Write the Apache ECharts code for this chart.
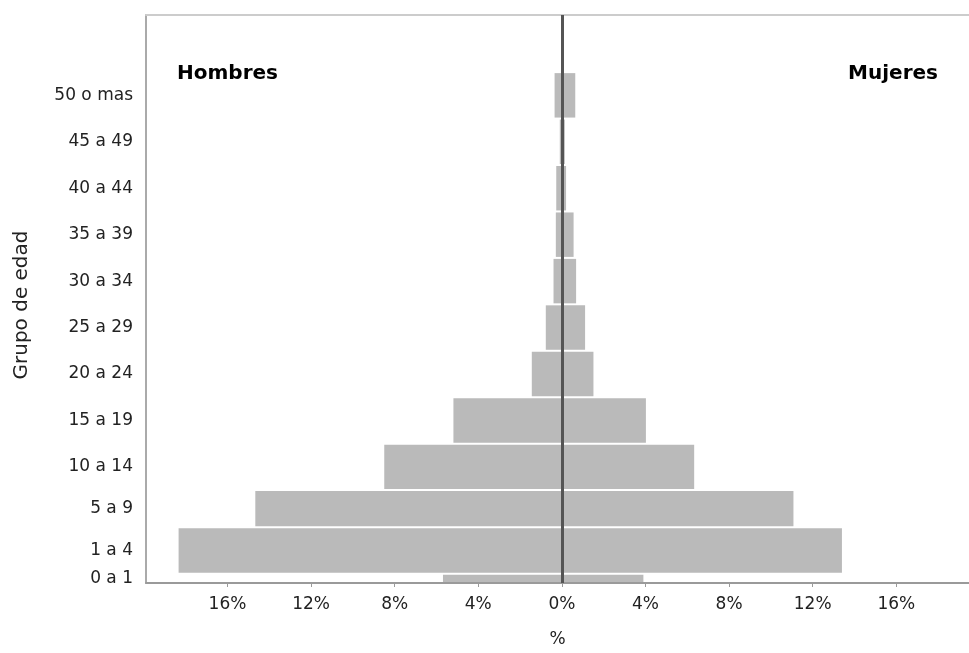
<!DOCTYPE html>
<html>
<head>
<meta charset="utf-8">
<script src="https://cdn.jsdelivr.net/npm/echarts@6/dist/echarts.min.js"></script>
<style>html,body{margin:0;padding:0;background:#fff}#c{width:969px;height:653px}</style>
</head>
<body>
<div id="c"></div>
<script>
// Age groups (bottom to top) and their band extents on the vertical scale
const ageGroups = ['0 a 1','1 a 4','5 a 9','10 a 14','15 a 19','20 a 24','25 a 29','30 a 34','35 a 39','40 a 44','45 a 49','50 o mas'];
const bandStart = [0, 0.2, 1.2, 2, 3, 4, 5, 6, 7, 8, 9, 10];
const bandEnd   = [0.2, 1.2, 2, 3, 4, 5, 6, 7, 8, 9, 10, 11];
// Percentages
const hombres = [5.69, 18.34, 14.67, 8.50, 5.19, 1.44, 0.77, 0.40, 0.29, 0.27, 0.10, 0.35];
const mujeres = [3.90, 13.40, 11.08, 6.33, 4.02, 1.51, 1.11, 0.68, 0.56, 0.20, 0.14, 0.64];
// X tick values
const xTicks = [-16, -12, -8, -4, 0, 4, 8, 12, 16];

const FONT = 'DejaVu Sans';
const centers = ageGroups.map((g, i) => (bandStart[i] + bandEnd[i]) / 2);

function renderBar(params, api) {
  const s = api.value(0), e = api.value(1), v = api.value(2);
  const pTop = api.coord([0, e]);
  const pBot = api.coord([v, s]);
  const x = Math.min(pTop[0], pBot[0]);
  const w = Math.abs(pBot[0] - pTop[0]);
  const y = pTop[1] + 1;
  const h = Math.max(0, pBot[1] - pTop[1] - 2);
  return { type: 'rect', shape: { x: x, y: y, width: w, height: h }, style: { fill: '#bababa' } };
}

const chart = echarts.init(document.getElementById('c'));
chart.setOption({
  animation: false,
  backgroundColor: '#fff',
  grid: { left: 146, right: 0, top: 15, bottom: 63 },
  xAxis: [{
    type: 'value', min: -19.9, max: 19.48,
    axisLine: { show: true, onZero: false, lineStyle: { color: '#9a9a9a', width: 2 } },
    axisTick: { show: true, customValues: xTicks, length: 4, lineStyle: { color: '#9a9a9a' } },
    splitLine: { show: false },
    axisLabel: { customValues: xTicks, formatter: v => Math.abs(v) + '%', fontFamily: FONT, fontSize: 17, color: '#222', margin: 13 },
    name: '%', nameLocation: 'middle', nameGap: 48,
    nameTextStyle: { fontFamily: FONT, fontSize: 17, color: '#222' }
  }, {
    type: 'value', position: 'top', min: -19.9, max: 19.48,
    axisLine: { show: true, onZero: false, lineStyle: { color: '#cccccc', width: 2 } },
    axisTick: { show: false }, axisLabel: { show: false }, splitLine: { show: false }
  }],
  yAxis: {
    type: 'value', min: 0, max: 12.23,
    axisLine: { show: true, onZero: false, lineStyle: { color: '#aaaaaa', width: 2 } },
    axisTick: { show: false },
    splitLine: { show: false },
    axisLabel: {
      customValues: centers,
      formatter: v => { let best = 0; centers.forEach((c, i) => { if (Math.abs(c - v) < Math.abs(centers[best] - v)) best = i; }); return ageGroups[best]; },
      fontFamily: FONT, fontSize: 17, color: '#222', margin: 13
    }
  },
  series: [{
    name: 'Hombres', type: 'custom', renderItem: renderBar,
    data: ageGroups.map((g, i) => [bandStart[i], bandEnd[i], -hombres[i]]),
    markLine: {
      silent: true, symbol: 'none', label: { show: false },
      lineStyle: { color: '#555', width: 3, type: 'solid' },
      data: [{ xAxis: 0 }]
    }
  }, {
    name: 'Mujeres', type: 'custom', renderItem: renderBar,
    data: ageGroups.map((g, i) => [bandStart[i], bandEnd[i], mujeres[i]])
  }],
  graphic: [
    { type: 'text', left: 177, top: 64, style: { text: 'Hombres', font: 'bold 20px "DejaVu Sans"', fill: '#000' } },
    { type: 'text', right: 31, top: 64, style: { text: 'Mujeres', font: 'bold 20px "DejaVu Sans"', fill: '#000' } },
    { type: 'text', x: 22, y: 305, rotation: Math.PI / 2, style: { text: 'Grupo de edad', font: '20px "DejaVu Sans"', fill: '#222', textAlign: 'center', textVerticalAlign: 'middle' } }
  ]
});
</script>
</body>
</html>
